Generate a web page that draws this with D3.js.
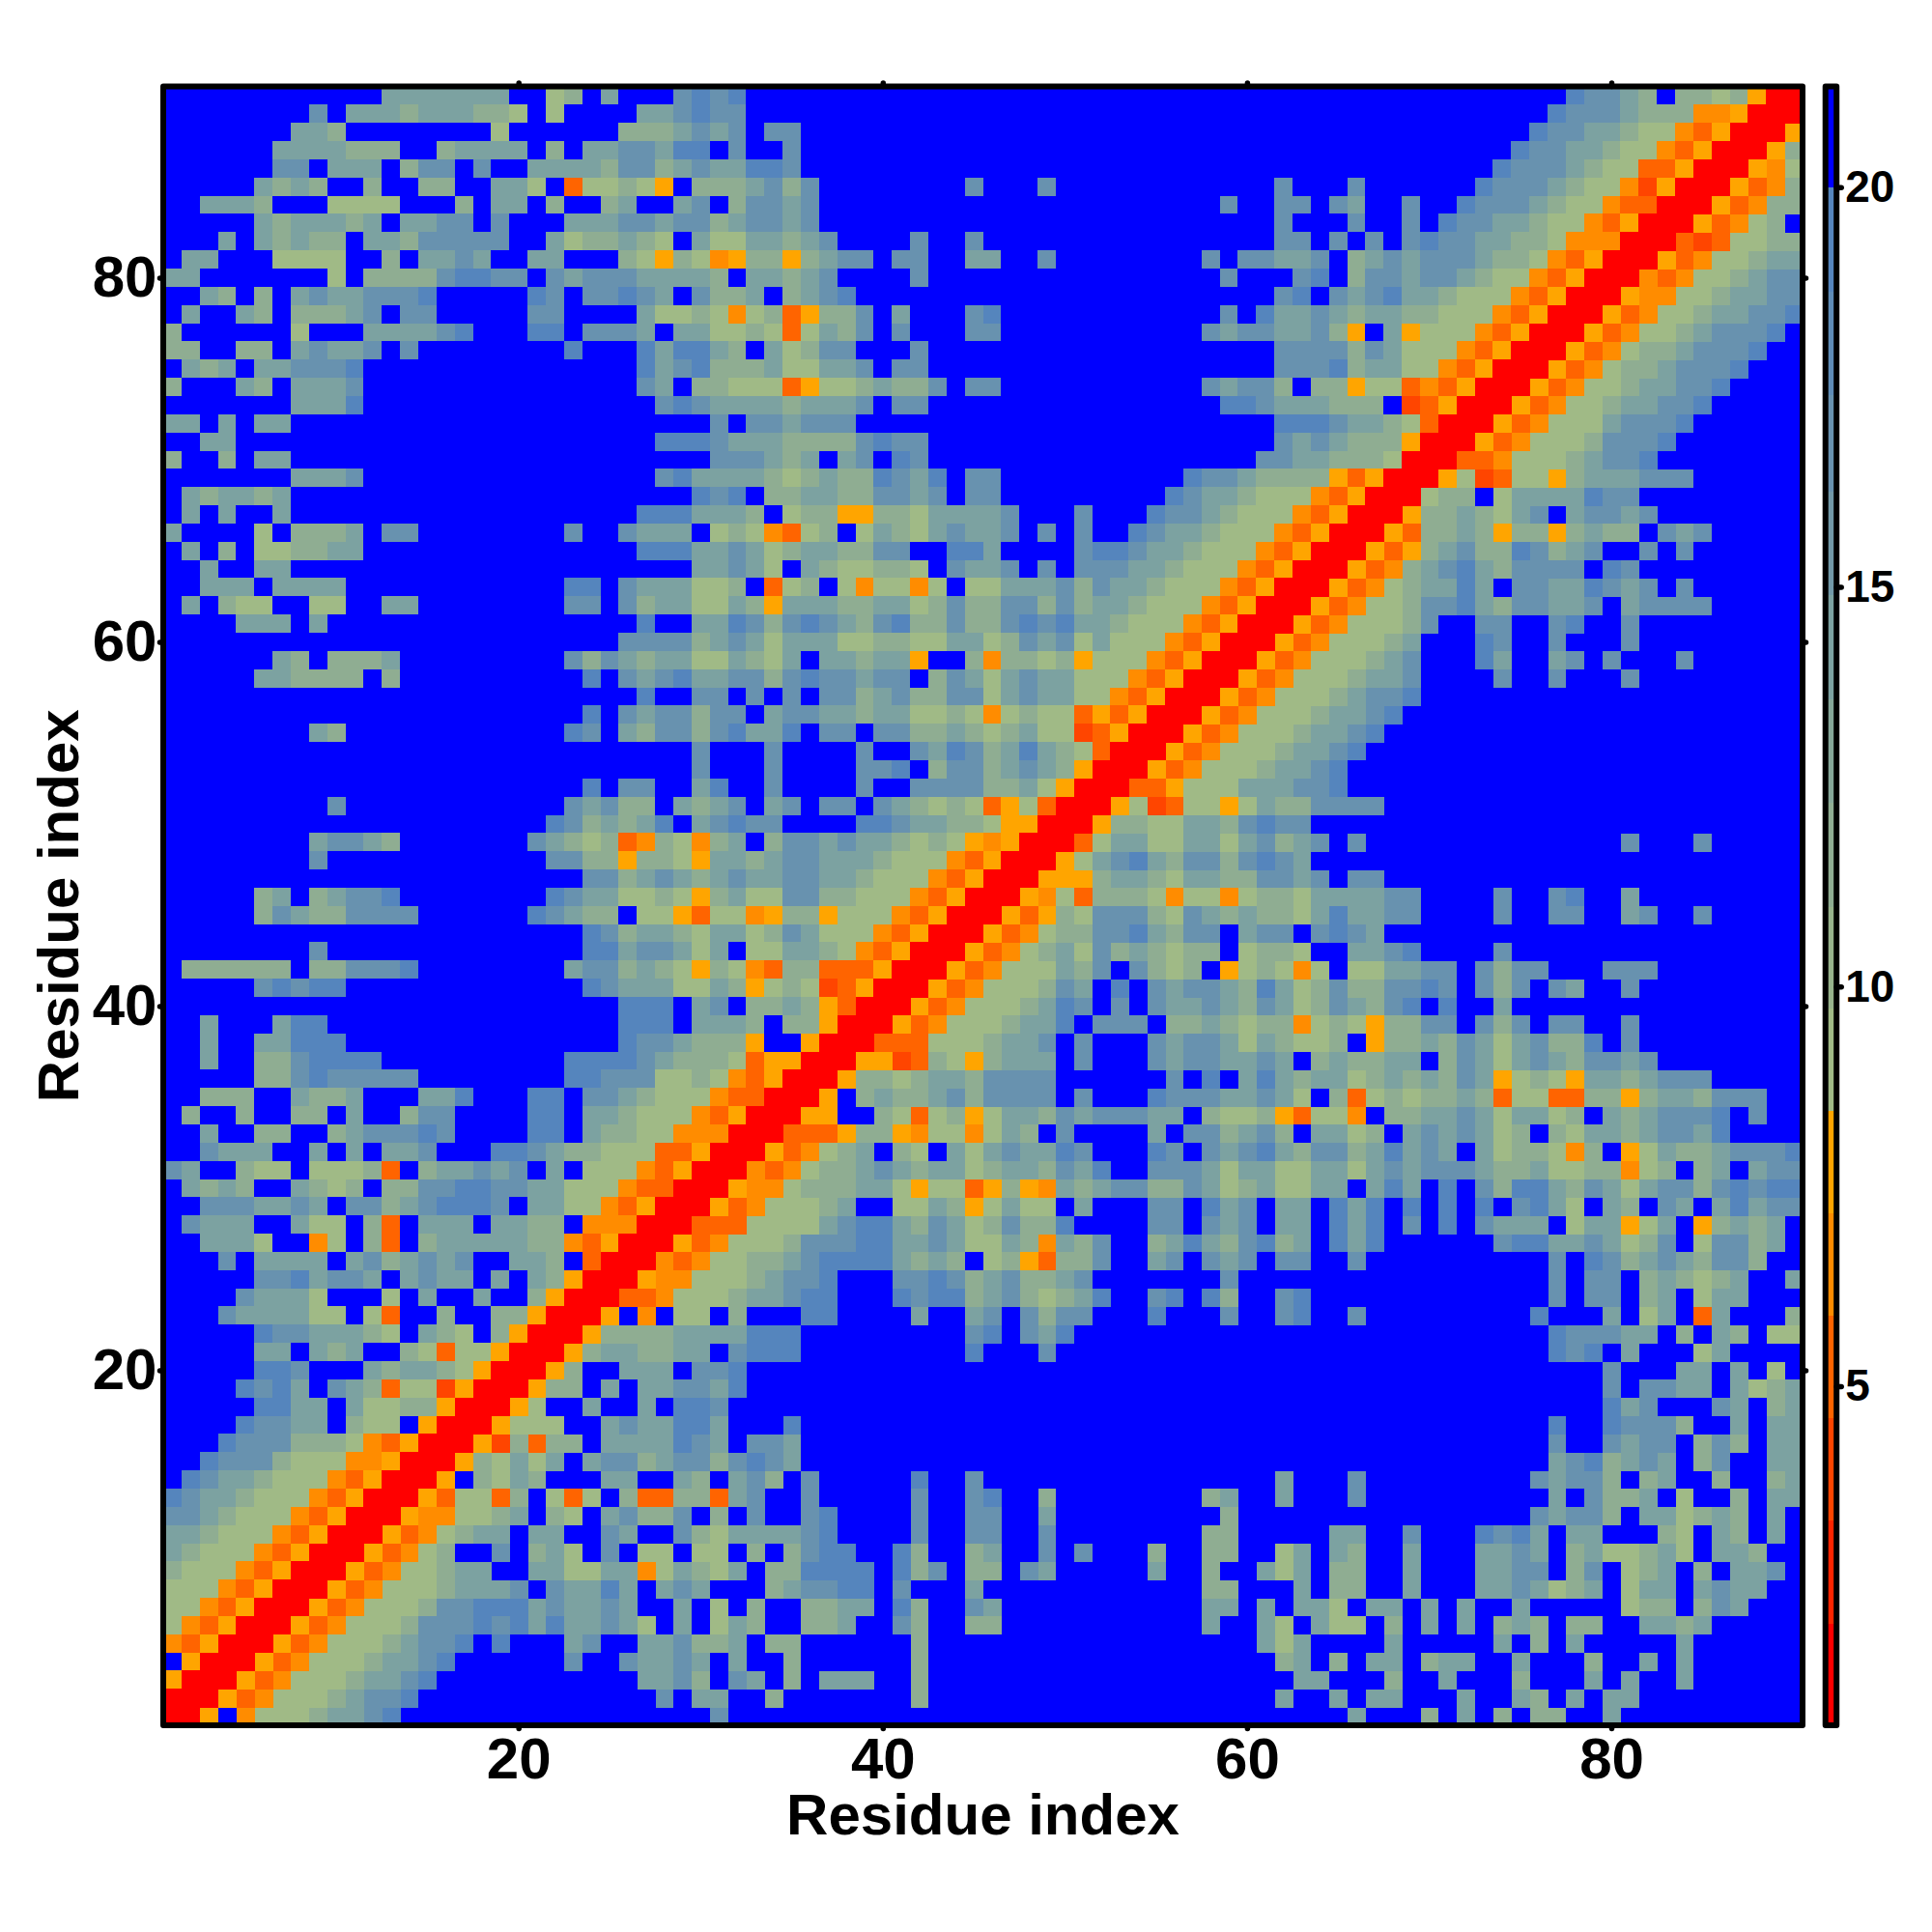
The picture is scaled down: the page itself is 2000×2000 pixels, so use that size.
<!DOCTYPE html>
<html>
<head>
<meta charset="utf-8">
<script src="https://cdnjs.cloudflare.com/ajax/libs/d3/7.8.5/d3.min.js"></script>
<style>
html,body{margin:0;padding:0;background:#fff}
svg{display:block}
text{font-family:"Liberation Sans",Arial,sans-serif;font-weight:bold;fill:#000}
</style>
</head>
<body>
<svg id="chart" width="2000" height="2000"></svg>
<script>
const residueRange = [0.5, 90.5];
const axisTicks = [20, 40, 60, 80];
const colorTicks = [5, 10, 15, 20];
const axisTitle = "Residue index";
const colorRange = [0.76, 21.26];
const colorEdges = [2.04, 3.33, 4.61, 5.89, 7.17, 8.45, 9.73, 11.0, 12.3, 13.6, 14.9, 16.2, 17.4, 18.7, 20.0];
const colorBins = ["#ff0000","#ff2500","#ff4500","#ff6400","#ff8c00","#ffa500","#a0ba86","#97b38c","#8fad92","#86a899","#7ca2a1","#7299a8","#6892af","#5f8cb6","#5585bd","#0000ff"];
const codeValues = {r:1.4, s:4.0, q:5.2, p:6.5, o:7.8, "1":9.1, "2":11.6, "3":14.2, "4":16.8, "5":19.3, ".":20.6};

// Upper-left half of the symmetric map, rows listed from residue 90 downwards.
const leftTop = [
"............3333333..12.3...45",
"........4.3332333221.1....3345",
".......332........1......22234",
"......3333222..23333.2.3344355",
"......44.333.244.4..3333244234",
".....3232..2..22..331.q1121o.2",
"..3332...1111...2.33.2..23..34",
".....3233323.3344.4...33344344",
"...3.32322.33244444..3122321.3",
".33...1111..2.3343..33...21o21",
"33.......1.222245544.434443333",
"..32.2.34334445.....54.44543.4",
".3..32.22234.44.....44....3112",
"2......1...333345...55.4443.33",
"22..22.34334.4........5...5355",
".323.334445...............5345",
"2...32.3334...............43.2",
".......3335................454",
"33.3.33.......................",
"..33.......................555",
"2..2.33.......................",
".......3334................453",
".323323......................5",
".3.3..3...................5553",
"3....1.2223.44........4..4333.",
".3.2.112233...............5553",
"..3..33......................3",
"..333.3333............55.43331",
".3.211..11..33........44.42331",
"....333.3.................5..3"];
const midTop = [
"45............................",
"44............................",
"34.44.........................",
".4..4.........................",
"33554.........................",
"223424........4...4...........",
".24434......................4.",
"234434........................",
"1133234....4..4...............",
"po22o2344.44..33..4........4.4",
"2.33234....4................4.",
"223.2345......................",
"1p12qo224.3...45............4.",
"1121q1324.4...44...........434",
"32.31244...4..................",
"222311334.44..................",
"2111qo1123224.44...........434",
"333323334.44................55",
"4.443444......................",
"433322224544..................",
"444323.34.54..................",
"3332123225435.44..........5443",
"45.2233224434.44.........54332",
"332.122oo22133334...4...544321",
"121pq12.132134334.4.4..5433211",
"34312332244..553....4554332111",
"3431.3211221.4334.4.444332111p",
"12.q12.1p11p1.11333424332111pq",
"132o33322331242244242332111pqo",
"35424543245224224545332111pqor"];
const rightTop = [
".................54432.2212orr",
"................54443222pporrr",
"...............54433211pqorrro",
"..............54433211pqorr",
".............54443211qqorr",
".4...4......54443211psorr",
".44.43..4..54443211pqqrr",
".4...4..4.54433211pqorr",
".44.4.4.454433221ppprr",
"4334.23434443221pqorr",
"..45.2443443211pqorr",
".45.4345332111pqorr",
"5334323322111pqorr",
"43342o.3o111pqorr",
".4444243111pqorr",
".444523311pqorr",
"42.22o11qpqorr",
"4333222.sqorr",
".55543321qrr",
".4343222orr",
"44332221rr",
"2222oqorr",
"111pqorr",
"11pqorr",
"1pqorr",
"pqorr",
"qorr",
"orr",
"rr",
"r"];
const leftMid = [
".........................44442",
"......32.2223.........42432331",
".....332222.2..........5.43453",
"..........................5..4",
".......................5.43442",
"........32............54.32442",
".............................4",
".............................4",
".......................5.44..3",
".........4............43422.32",
".....................5423235.3",
"........34432.......43212qp21p",
"........4............4422o221o",
".......................4423432",
".....23.23445........54331121o",
".....243224444......54322.11oq",
".......................5423321",
"........4..............5534431",
".222222.224445........3442321o",
".....45455.............5433311",
".........................555.3",
"..3...355................555.3",
"..3..33555...............54432",
"..3..2245555..........55554322",
".....224544444........55444112",
"..222..3223...335...55.4432111",
".2..2..22.3..244....55.332111p",
"..3..22..2344454....55.32211pp",
"..4333..3.3.334...554322111qqo",
"43..211.1112q.233434.3.111pqor"];
const midMid = [
"3431333112211331243413111pqorr",
"13213.33233o..2p2212o111pqorr",
"34424544344.24313433111pqorr",
"4.4.4.4423422441343311pqorr",
"44.344332331121p1211qoqorr",
"45335.44.44223212311sqorr",
"...4....4..4354235321qrr",
"...4....445.24423432orr",
"5..4....4..44442231orr",
"34.34.44.432121qo1qrr",
"4544....55433221oorr",
"23.24434332121oporr",
"3323443332111pqorr",
"343344332111pqorr",
"23114422111pqorr",
"11po22o111pqorr",
"331243111pqorr",
"3.113321pqorr",
"21pq22qqqorr",
"32o121sqorr",
"4.2232oqrr",
"332.22orr",
"22o..orr",
"21qoorr",
"1pqorr",
"pqqrr",
"qorr",
"prr",
"rr",
"r"];
const leftLow = [
".3232..3212.2244554433111pqqrr",
"..4443343.442345554.3311pqorr",
".4333..311.2q.333.3322.ppprr",
"..3331..p1.2q.23333322pqorr",
"...4.3333.3423434..332.qrr",
".....4453443.3433.3.32orr",
"....43331...1.3..3..2orr",
"...4333311.1q..2..22orr",
".....54433321.321.2orr",
".....33.323..21q11orr",
".....554...323321orr",
"....5453.432q11sorr",
".....5533.31122orr",
"....54433.211.orr",
"...54442221pqorr",
"..54442111pporr",
".54332111pqorr",
"54332111pqorr",
"4432111pqorr",
"332111pqorr",
"32111pqorr",
"2111pqorr",
"111pqorr",
"11pqorr",
"1pqorr",
"pqorr",
".orr",
"orr",
"rr",
"r"];

const frame = {left:169, right:1866, top:89.5, bottom:1786};
const x = d3.scaleLinear().domain(residueRange).range([frame.left, frame.right]);
const y = d3.scaleLinear().domain(residueRange).range([frame.bottom, frame.top]);
const color = d3.scaleThreshold().domain(colorEdges).range(colorBins);
const barY = d3.scaleLinear().domain(colorRange).range([frame.bottom, frame.top]);

// Assemble the blocks into a list of cells, mirroring across the diagonal.
const cells = [];
function addBlock(rows, firstResidue, topRow){
  rows.forEach((row, r) => {
    const j = topRow - r;
    Array.from(row).forEach((code, c) => {
      const i = firstResidue + c;
      if (i > j) return;
      cells.push({i, j, v: codeValues[code]});
      if (i !== j) cells.push({i: j, j: i, v: codeValues[code]});
    });
  });
}
addBlock(leftTop, 1, 90);
addBlock(midTop, 31, 90);
addBlock(rightTop, 61, 90);
addBlock(leftMid, 1, 60);
addBlock(midMid, 31, 60);
addBlock(leftLow, 1, 30);

const svg = d3.select("#chart");
svg.append("rect").attr("width",2000).attr("height",2000).attr("fill","#fff");

svg.append("g").attr("shape-rendering","crispEdges")
  .selectAll("rect").data(cells).join("rect")
  .attr("x", d => x(d.i - 0.5))
  .attr("y", d => y(d.j + 0.5))
  .attr("width", d => x(d.i + 0.5) - x(d.i - 0.5) + 0.5)
  .attr("height", d => y(d.j - 0.5) - y(d.j + 0.5) + 0.5)
  .attr("fill", d => color(d.v));

const tickStroke = 5.5;
function styleAxis(g, fontSize){
  g.select(".domain").remove();
  g.selectAll(".tick line").attr("stroke","#000").attr("stroke-width",tickStroke).attr("stroke-linecap","round");
  g.selectAll(".tick text").attr("font-size",fontSize).attr("fill","#000");
  g.attr("font-family",null);
}
const tickLen = 3.5;
const labelFont = 60;
svg.append("g").attr("transform",`translate(0,${frame.bottom})`)
  .call(d3.axisBottom(x).tickValues(axisTicks).tickSize(tickLen).tickPadding(9).tickFormat(d3.format("d")))
  .call(g => styleAxis(g,labelFont));
svg.append("g").attr("transform",`translate(${frame.left},0)`)
  .call(d3.axisLeft(y).tickValues(axisTicks).tickSize(tickLen).tickPadding(3).tickFormat(d3.format("d")))
  .call(g => styleAxis(g,labelFont));
svg.append("g").attr("transform",`translate(0,${frame.top})`)
  .call(d3.axisTop(x).tickValues(axisTicks).tickSize(tickLen).tickFormat(""))
  .call(g => styleAxis(g,labelFont));
svg.append("g").attr("transform",`translate(${frame.right},0)`)
  .call(d3.axisRight(y).tickValues(axisTicks).tickSize(tickLen).tickFormat(""))
  .call(g => styleAxis(g,labelFont));

svg.append("rect")
  .attr("x",frame.left).attr("y",frame.top)
  .attr("width",frame.right-frame.left).attr("height",frame.bottom-frame.top)
  .attr("fill","none").attr("stroke","#000").attr("stroke-width",tickStroke+0.5).attr("stroke-linejoin","round");

svg.append("text").attr("x",(frame.left+frame.right)/2).attr("y",1899)
  .attr("text-anchor","middle").attr("font-size",labelFont).text(axisTitle);
svg.append("text").attr("transform",`translate(81,${(frame.top+frame.bottom)/2}) rotate(-90)`)
  .attr("text-anchor","middle").attr("font-size",labelFont).text(axisTitle);

// Colour bar
const bar = {left:1889.7, right:1901.2};
const binEdges = [colorRange[0], ...colorEdges, colorRange[1]];
svg.append("g").attr("shape-rendering","crispEdges")
  .selectAll("rect").data(colorBins).join("rect")
  .attr("x",bar.left).attr("width",bar.right-bar.left)
  .attr("y",(d,k)=>barY(binEdges[k+1]))
  .attr("height",(d,k)=>barY(binEdges[k])-barY(binEdges[k+1])+0.5)
  .attr("fill",d=>d);
svg.append("g").attr("transform",`translate(${bar.right},0)`)
  .call(d3.axisRight(barY).tickValues(colorTicks).tickSize(tickLen+1.5).tickPadding(4).tickFormat(d3.format("d")))
  .call(g => styleAxis(g,46));
svg.append("rect")
  .attr("x",bar.left).attr("y",frame.top)
  .attr("width",bar.right-bar.left).attr("height",frame.bottom-frame.top)
  .attr("fill","none").attr("stroke","#000").attr("stroke-width",tickStroke+0.5).attr("stroke-linejoin","round");
</script>
</body>
</html>
